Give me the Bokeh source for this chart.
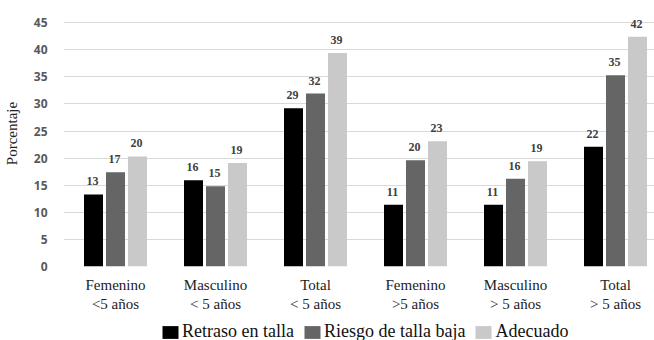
from bokeh.plotting import figure
from bokeh.layouts import column
from bokeh.models import (ColumnDataSource, Range1d, FixedTicker, Legend, LegendItem,
                          LabelSet)
from bokeh.embed import file_html
from bokeh.resources import INLINE

# Groups (sex / age band) and the three height-status series, in percent
categories = ["Femenino\n<5 años", "Masculino\n< 5 años", "Total\n< 5 años",
              "Femenino\n>5 años", "Masculino\n> 5 años", "Total\n> 5 años"]
series_names = ["Retraso en talla", "Riesgo de talla baja", "Adecuado"]
retraso = [13.3, 15.9, 29.2, 11.4, 11.4, 22.1]
riesgo = [17.4, 14.8, 31.9, 19.6, 16.2, 35.3]
adecuado = [20.3, 19.1, 39.4, 23.1, 19.4, 42.4]
y_ticks = [0, 5, 10, 15, 20, 25, 30, 35, 40, 45]

colors = ["#000000", "#656565", "#c9c9c9"]
offsets = [-0.22, 0.0, 0.22]
bar_w = 0.19

# y range extends past the top gridline (45) so the value labels have room
p = figure(width=654, height=316, output_backend="svg", toolbar_location=None,
           x_range=Range1d(-0.52, 5.39), y_range=Range1d(0, 49.08),
           min_border_left=63, min_border_right=0, min_border_top=0,
           min_border_bottom=50, outline_line_color=None,
           background_fill_color="white", border_fill_color="white")

for name, vals, col, off in zip(series_names, [retraso, riesgo, adecuado], colors, offsets):
    xs = [i + off for i in range(len(categories))]
    src = ColumnDataSource(dict(x=xs, top=vals, lab=[str(round(v)) for v in vals]))
    p.vbar(x="x", top="top", width=bar_w, source=src, fill_color=col, line_color=None)
    p.add_layout(LabelSet(x="x", y="top", text="lab", source=src, x_offset=-1, y_offset=9,
                          text_align="center", text_baseline="bottom",
                          text_font="Open Sans", text_font_style="bold",
                          text_font_size="12px", text_color="#404040"))

# Axes
p.xaxis.ticker = FixedTicker(ticks=list(range(len(categories))))
p.xaxis.major_label_overrides = {i: c for i, c in enumerate(categories)}
p.xaxis.major_label_text_font = "Liberation Serif"
p.xaxis.major_label_text_font_size = "15px"
p.xaxis.major_label_text_color = "#222222"
p.xaxis.major_label_standoff = 4
p.xaxis.axis_line_color = None
p.xaxis.major_tick_line_color = None
p.xaxis.minor_tick_line_color = None

p.yaxis.ticker = FixedTicker(ticks=y_ticks)
p.yaxis.axis_label = "Porcentaje"
p.yaxis.axis_label_text_font = "Liberation Serif"
p.yaxis.axis_label_text_font_style = "normal"
p.yaxis.axis_label_text_font_size = "15px"
p.yaxis.axis_label_text_color = "#222222"
p.yaxis.axis_label_standoff = 11
p.yaxis.major_label_text_font = "Open Sans"
p.yaxis.major_label_text_font_style = "bold"
p.yaxis.major_label_text_font_size = "12px"
p.yaxis.major_label_text_color = "#595959"
p.yaxis.major_label_standoff = 10
p.yaxis.axis_line_color = None
p.yaxis.major_tick_line_color = None
p.yaxis.minor_tick_line_color = None

p.xgrid.grid_line_color = None
p.ygrid.grid_line_color = "#d9d9d9"
p.ygrid.grid_line_width = 1

# Legend strip underneath the chart; the swatch renderers sit below its view
leg = figure(width=654, height=24, output_backend="svg", toolbar_location=None,
             x_axis_type=None, y_axis_type=None, min_border=0,
             outline_line_color=None, x_range=Range1d(0, 1), y_range=Range1d(0, 1))
leg.xgrid.grid_line_color = None
leg.ygrid.grid_line_color = None
swatches = [leg.vbar(x=[0.5], top=[-5], bottom=[-6], width=0.1, fill_color=c, line_color=None)
            for c in colors]
legend = Legend(items=[LegendItem(label=n, renderers=[r]) for n, r in zip(series_names, swatches)],
                orientation="horizontal", location=(97, -2),
                label_text_font="Liberation Serif", label_text_font_size="18px",
                label_text_color="#111111", glyph_width=20, glyph_height=16,
                label_height=18, label_standoff=2, spacing=8, padding=0, margin=0,
                border_line_color=None, background_fill_alpha=0)
leg.add_layout(legend, "center")

open("out.html", "w").write(file_html(column(p, leg, spacing=0), INLINE))
